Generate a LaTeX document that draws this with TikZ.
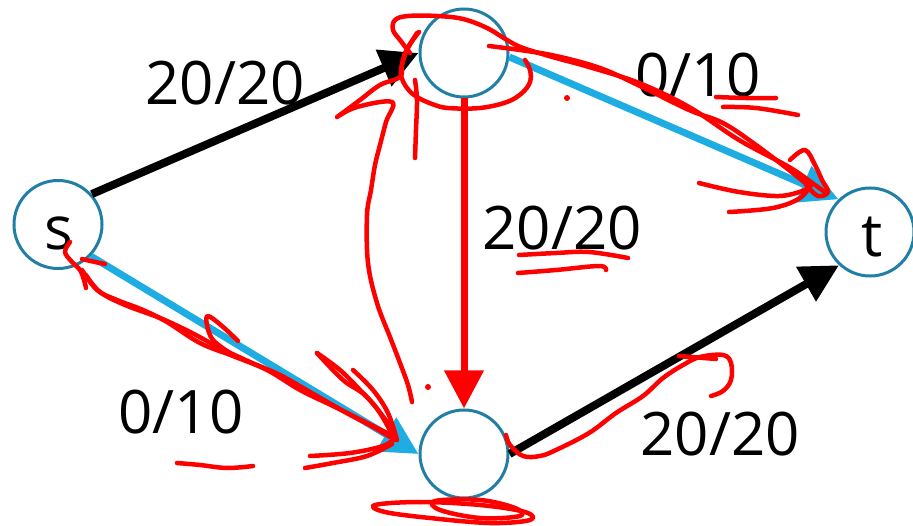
\documentclass[tikz,border=0pt]{standalone}
\usepackage{fontspec}
\setmainfont{Open Sans}
\usetikzlibrary{arrows.meta}
\definecolor{ring}{HTML}{217FA6}
\definecolor{flowblue}{HTML}{1DADE2}
\begin{document}
\begin{tikzpicture}[x=1pt,y=-1pt,
 vert/.style={circle,draw=ring,line width=3pt,minimum size=88pt,inner sep=0pt},
 lbl/.style={font=\fontsize{60}{72}\selectfont,inner sep=0pt,anchor=base},
 tipped/.style={-{Triangle[length=38pt,width=38pt]}},
 full/.style={tipped,draw=black,line width=8pt},
 open/.style={tipped,draw=flowblue,line width=7pt},
 cut/.style={tipped,draw=red,line width=7pt},
 scrib/.style={draw=red,line width=4.5pt,line cap=round,line join=round},
 dotmark/.style={fill=red,draw=none}]
\useasboundingbox (0,0) rectangle (913,526);
% vertices
\node[vert] (s) at (58,224.5) {};
\node[vert] (u) at (464,53) {};
\node[vert] (v) at (464,454) {};
\node[vert] (t) at (870,232) {};
% edges
\draw[full] (s.42) -- (u.west);
\draw[open] (u.-5) -- (t.134);
\draw[cut] (u.south) -- (v.north);
\draw[open] (s.-44) -- (v.west);
\draw[full] (v.east) -- (t.227);
% labels
\node[lbl] (l1) at (225,105) {20/20};
\node[lbl] (l2) at (698,97) {0/10};
\node[lbl] (l3) at (562,250) {20/20};
\node[lbl] (l4) at (181,433) {0/10};
\node[lbl] (l5) at (720,455) {20/20};
\node[lbl] (ls) at (59,250) {s};
\node[lbl] (lt) at (872,257) {t};
% hand-drawn red scribbles
\draw[scrib] plot[smooth,tension=0.6] coordinates {(419,32) (408,47) (403,60) (401,75) (407,88) (417,97) (432,104) (448,108) (480,108) (507,102) (522,93) (530,82) (530,70) (525,60)};
\draw[scrib] plot[smooth,tension=0.6] coordinates {(410,53) (400,40) (393,30) (395,20) (408,16) (437,16) (463,19) (487,28) (507,40) (523,48) (556,58) (589,67) (639,83) (689,107) (739,140) (789,167) (815,185) (826,193)};
\draw[scrib] plot[smooth,tension=0.6] coordinates {(489,46) (520,50) (556,56) (600,68) (640,86) (689,110) (723,123) (756,145) (789,170) (810,187)};
\draw[scrib] plot[smooth,tension=0.6] coordinates {(790,160) (805,150) (815,165) (822,180) (828,192) (818,196) (806,185)};
\draw[scrib] plot[smooth,tension=0.6] coordinates {(699,183) (739,192) (780,196) (805,190)};
\draw[scrib] plot[smooth,tension=0.6] coordinates {(729,212) (773,208) (800,198) (812,183)};
\draw[scrib] plot[smooth,tension=0.6] coordinates {(716,97) (745,98) (776,98)};
\draw[scrib] plot[smooth,tension=0.6] coordinates {(723,107) (756,108) (798,115)};
\draw[scrib] plot[smooth,tension=0.6] coordinates {(337,117) (357,107) (392,102) (386,122) (380,145) (375,165) (371,190) (367,215) (368,263) (377,303) (390,337) (400,363) (408,385) (412,402)};
\draw[scrib] plot[smooth,tension=0.6] coordinates {(340,115) (360,100) (380,85) (400,77) (402,65) (407,50) (417,33)};
\draw[scrib] plot[smooth,tension=0.6] coordinates {(415,80) (417,100) (416,130) (415,158)};
\draw[scrib] plot[smooth,tension=0.6] coordinates {(519,255) (556,253) (589,252) (628,258)};
\draw[scrib] plot[smooth,tension=0.6] coordinates {(518,273) (556,270) (599,266) (606,270)};
\draw[scrib] plot[smooth,tension=0.6] coordinates {(70,242) (65,252) (72,262) (80,270) (84,280) (86,288)};
\draw[scrib] plot[smooth,tension=0.6] coordinates {(82,259) (95,262) (105,264)};
\draw[scrib] plot[smooth,tension=0.6] coordinates {(82,270) (97,290) (117,300) (143,310) (167,322) (200,343) (233,356) (267,370) (300,390) (333,406) (367,423) (393,436)};
\draw[scrib] plot[smooth,tension=0.6] coordinates {(86,275) (100,292) (125,305) (160,318) (190,332) (220,348) (250,362) (280,375) (310,392) (345,412) (375,428) (395,440)};
\draw[scrib] plot[smooth,tension=0.6] coordinates {(238,341) (222,326) (208,316) (207,325) (213,340) (230,353)};
\draw[scrib] plot[smooth,tension=0.6] coordinates {(317,353) (340,370) (360,390) (378,410) (393,436)};
\draw[scrib] plot[smooth,tension=0.6] coordinates {(353,370) (373,390) (388,413) (397,440)};
\draw[scrib] plot[smooth,tension=0.6] coordinates {(317,353) (343,380) (367,397) (393,430)};
\draw[scrib] plot[smooth,tension=0.6] coordinates {(310,456) (350,453) (383,446) (395,438)};
\draw[scrib] plot[smooth,tension=0.6] coordinates {(305,468) (333,463) (367,456) (392,444)};
\draw[scrib] plot[smooth,tension=0.6] coordinates {(177,463) (200,465) (227,468) (253,466)};
\draw[scrib] plot[smooth cycle,tension=0.6] coordinates {(375,505) (420,502) (480,505) (525,512) (530,520) (490,523) (430,518) (385,512)};
\draw[scrib] plot[smooth cycle,tension=0.6] coordinates {(435,501) (480,500) (515,508) (520,516) (480,518) (440,510)};
\draw[scrib] plot[smooth,tension=0.6] coordinates {(506,435) (510,445) (523,456) (540,456) (556,450) (589,433) (616,413) (643,396) (663,378) (683,365) (700,357) (723,355) (731,363) (731,380) (723,391) (711,396)};
\draw[scrib] plot[smooth,tension=0.6] coordinates {(679,356) (716,359)};
\fill[dotmark] (567,98) circle (3);
\fill[dotmark] (428,387) circle (3);
\end{tikzpicture}
\end{document}
